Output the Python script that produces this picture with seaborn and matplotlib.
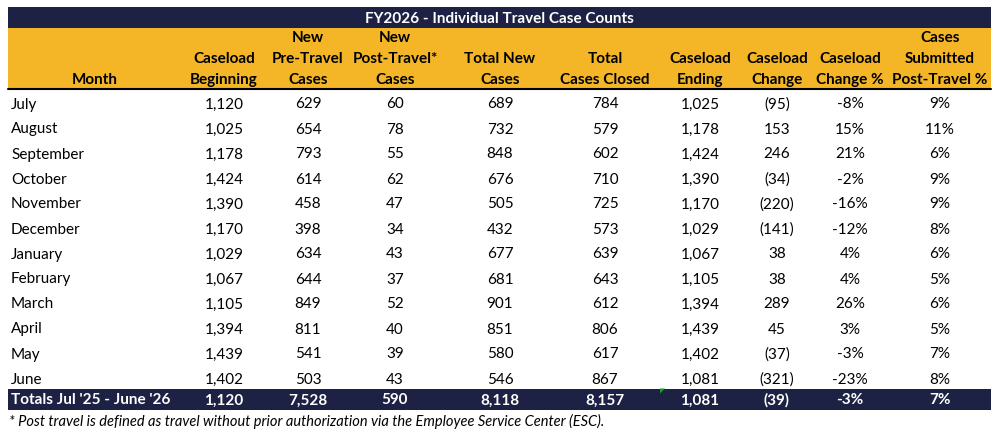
import matplotlib.pyplot as plt
import matplotlib.patches as mpatches
import seaborn as sns

# ---- data ----
months = ["July", "August", "September", "October", "November", "December",
          "January", "February", "March", "April", "May", "June"]
caseload_begin = [1120, 1025, 1178, 1424, 1390, 1170, 1029, 1067, 1105, 1394, 1439, 1402]
new_pre = [629, 654, 793, 614, 458, 398, 634, 644, 849, 811, 541, 503]
new_post = [60, 78, 55, 62, 47, 34, 43, 37, 52, 40, 39, 43]
total_new = [689, 732, 848, 676, 505, 432, 677, 681, 901, 851, 580, 546]
closed = [784, 579, 602, 710, 725, 573, 639, 643, 612, 806, 617, 867]
caseload_end = [1025, 1178, 1424, 1390, 1170, 1029, 1067, 1105, 1394, 1439, 1402, 1081]
change = [-95, 153, 246, -34, -220, -141, 38, 38, 289, 45, -37, -321]
change_pct = [-8, 15, 21, -2, -16, -12, 4, 4, 26, 3, -3, -23]
post_pct = [9, 11, 6, 9, 9, 8, 6, 5, 6, 5, 7, 8]

totals_label = "Totals Jul '25 - June '26"
totals = [1120, 7528, 590, 8118, 8157, 1081, -39, -3, 7]

headers = [["", "", "Month"],
           ["", "Caseload", "Beginning"],
           ["New", "Pre-Travel", "Cases"],
           ["New", "Post-Travel*", "Cases"],
           ["", "Total New", "Cases"],
           ["", "Total", "Cases Closed"],
           ["", "Caseload", "Ending"],
           ["", "Caseload", "Change"],
           ["", "Caseload", "Change %"],
           ["Cases", "Submitted", "Post-Travel %"]]

title = "FY2026 - Individual Travel Case Counts"
footnote = "* Post travel is defined as travel without prior authorization via the Employee Service Center (ESC)."

# ---- layout ----
NAVY = "#1D2244"
GOLD = "#F4B626"
col_x = [95, 224, 308, 395, 500, 605, 700, 777, 850, 940]
left, right = 8, 991
row0, row_h = 104.5, 25


def fmt_num(v):
    return f"({abs(v):,})" if v < 0 else f"{v:,}"


sns.set_theme(style="white")
plt.rcParams["font.family"] = ["Lato", "DejaVu Sans"]

fig = plt.figure(figsize=(9.98, 4.34), dpi=100)
ax = fig.add_axes([0, 0, 1, 1])
ax.set_xlim(0, 998)
ax.set_ylim(434, 0)
ax.axis("off")

# title bar and header band
ax.add_patch(mpatches.Rectangle((left, 7), right - left, 21, color=NAVY, lw=0))
ax.add_patch(mpatches.Rectangle((left, 28), right - left, 61, color=GOLD, lw=0))
ax.plot([left, right], [89, 89], color="black", lw=1.5)
ax.text((left + right) / 2, 19, title, color="white", fontsize=11,
        fontweight="bold", ha="center", va="center")

for x, lines in zip(col_x, headers):
    for y, s in zip([37.5, 59, 80], lines):
        if s:
            ax.text(x, y, s, fontsize=11, fontweight="bold", ha="center",
                    va="center", color="black")

# body rows
for i, m in enumerate(months):
    y = row0 + i * row_h
    vals = [fmt_num(caseload_begin[i]), fmt_num(new_pre[i]), fmt_num(new_post[i]),
            fmt_num(total_new[i]), fmt_num(closed[i]), fmt_num(caseload_end[i]),
            fmt_num(change[i]), f"{change_pct[i]}%", f"{post_pct[i]}%"]
    ax.text(11, y, m, fontsize=11, ha="left", va="center", color="black")
    for x, s in zip(col_x[1:], vals):
        ax.text(x, y, s, fontsize=11, ha="center", va="center", color="black")

# totals row
ty = 399
ax.add_patch(mpatches.Rectangle((left, ty - 10.5), right - left, 21, color=NAVY, lw=0))
ax.add_patch(mpatches.Polygon([[660, ty - 10.5], [665, ty - 10.5], [660, ty - 5.5]],
                              color="#1E9A2A", lw=0))
tvals = [fmt_num(v) for v in totals[:7]] + [f"{totals[7]}%", f"{totals[8]}%"]
ax.text(11, ty + 1.5, totals_label, fontsize=11, fontweight="bold", ha="left",
        va="center", color="white")
for x, s in zip(col_x[1:], tvals):
    ax.text(x, ty + 1.5, s, fontsize=11, fontweight="bold", ha="center", va="center",
            color="white")

ax.text(9, 421, footnote, fontsize=10.5, style="italic", ha="left",
        va="center", color="black")

fig.savefig("out.png", dpi=100)
